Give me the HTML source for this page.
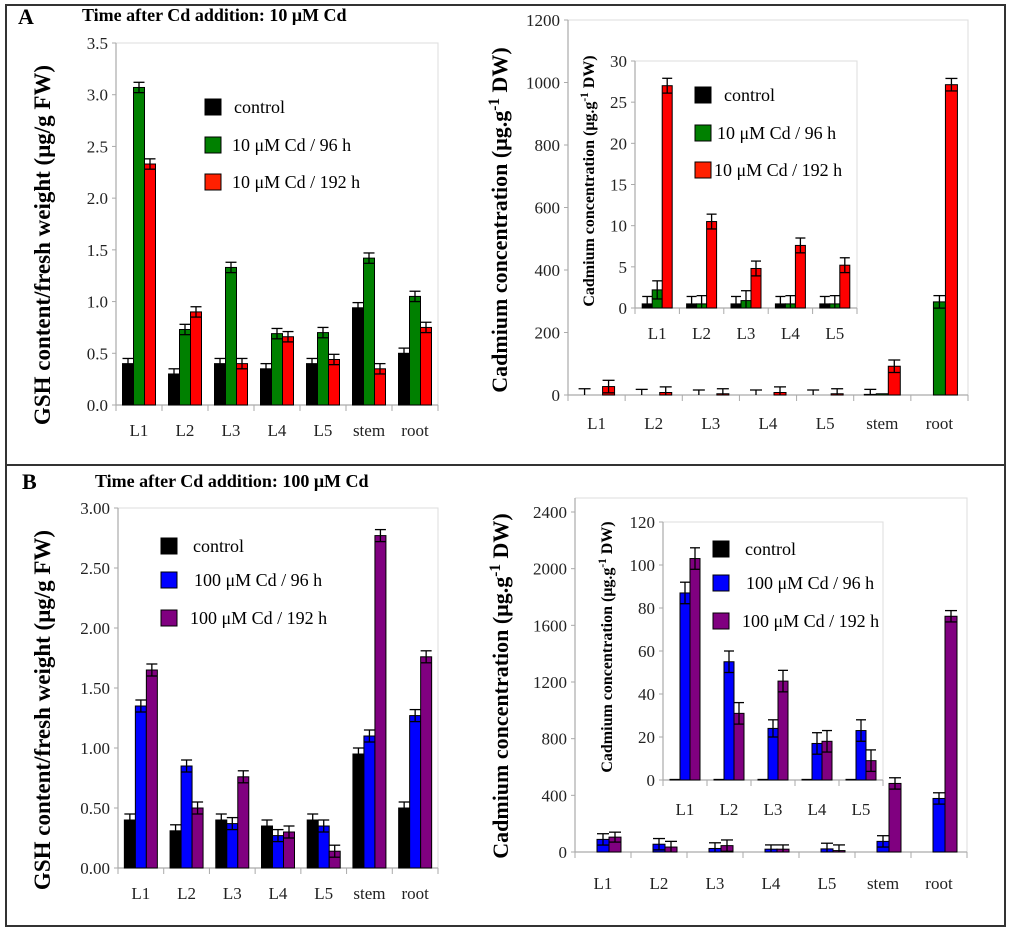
<!DOCTYPE html>
<html><head><meta charset="utf-8"><style>
html,body{margin:0;padding:0;background:#fff;}
svg{display:block;}
svg text{font-family:"Liberation Serif",serif;}
</style></head><body>
<svg id="fig" width="1024" height="932" viewBox="0 0 1024 932" xmlns="http://www.w3.org/2000/svg" font-family="Liberation Serif, serif">
<rect x="6" y="5" width="999" height="921" fill="none" stroke="#333" stroke-width="2"/>
<line x1="6" y1="465" x2="1005" y2="465" stroke="#333" stroke-width="2"/>
<text x="18" y="24" font-size="22" font-weight="bold">A</text>
<text x="82" y="21" font-size="18" font-weight="bold">Time after Cd addition:   10 μM Cd</text>
<text x="22" y="489" font-size="22" font-weight="bold">B</text>
<text x="95" y="487" font-size="18" font-weight="bold">Time after Cd addition:   100 μM Cd</text>
</svg>
<script>
const catsMain = ["L1","L2","L3","L4","L5","stem","root"];
const catsInset = ["L1","L2","L3","L4","L5"];
// Panel A GSH
const aGshCtrl = [0.40,0.30,0.40,0.35,0.40,0.94,0.50];
const aGsh96   = [3.07,0.73,1.33,0.69,0.70,1.42,1.05];
const aGsh192  = [2.33,0.90,0.40,0.66,0.44,0.35,0.75];
const aGshErr  = [0.05,0.05,0.05,0.05,0.05,0.05,0.05];
const aGshTicks = [0,0.5,1.0,1.5,2.0,2.5,3.0,3.5];
// Panel A Cd main
const aCdCtrl = [0,0,0,0,0,2,0];
const aCd96   = [0,0,0,0,0,4,298];
const aCd192  = [27,8,4,8,4,92,993];
const aCdErrCtrl = [20,18,16,16,16,16,0];
const aCdErr96 = [0,0,0,0,0,0,20];
const aCdErr192 = [20,18,16,18,16,20,20];
const aCdTicks = [0,200,400,600,800,1000,1200];
// Panel A Cd inset
const aInCtrl = [0.5,0.5,0.5,0.5,0.5];
const aIn96   = [2.2,0.5,0.9,0.5,0.5];
const aIn192  = [27,10.5,4.8,7.6,5.2];
const aInErrCtrl = [0.9,0.9,0.9,0.9,0.9];
const aInErr96 = [1.1,1.0,1.2,1.0,1.0];
const aInErr192 = [0.9,0.9,0.9,0.9,0.9];
const aInTicks = [0,5,10,15,20,25,30];
// Panel B GSH
const bGshCtrl = [0.40,0.31,0.40,0.35,0.40,0.95,0.50];
const bGsh96   = [1.35,0.85,0.37,0.27,0.35,1.10,1.27];
const bGsh192  = [1.65,0.50,0.76,0.30,0.14,2.77,1.76];
const bGshErr  = [0.05,0.05,0.05,0.05,0.05,0.05,0.05];
const bGshTicks = [0,0.5,1.0,1.5,2.0,2.5,3.0];
// Panel B Cd main
const bCdCtrl = [0,0,0,0,0,0,0];
const bCd96   = [89,55,25,20,22,75,378];
const bCd192  = [105,35,45,20,10,484,1664];
const bCdErr96 = [40,40,40,30,40,40,40];
const bCdErr192 = [35,40,40,30,40,40,40];
const bCdZero = [0,0,0,0,0,0,0];
const bCdTicks = [0,400,800,1200,1600,2000,2400];
// Panel B Cd inset
const bInCtrl = [0.3,0.3,0.3,0.3,0.3];
const bIn96   = [87,55,24,17,23];
const bIn192  = [103,31,46,18,9];
const bInErr96 = [5,5,4,5,5];
const bInErr192 = [5,5,5,5,5];
const bInZero = [0,0,0,0,0];
const bInTicks = [0,20,40,60,80,100,120];

const NS = "http://www.w3.org/2000/svg";
const fig = document.getElementById("fig");
function mk(tag, attrs, parent){
  const e = document.createElementNS(NS, tag);
  for (const k in attrs) e.setAttribute(k, attrs[k]);
  if (tag === "text") e.setAttribute("font-family", "Liberation Serif, serif");
  (parent||fig).appendChild(e);
  return e;
}
function chart(o){
  const g = mk("g", {});
  
  
  const yScale = v => o.y0 - (v - o.ticks[0]) / (o.ticks[o.ticks.length-1] - o.ticks[0]) * (o.y0 - o.yTop);
  const top = o.frameTop !== undefined ? o.frameTop : o.yTop;
  if (o.bg) mk("rect", {x:o.x0, y:top, width:o.x1-o.x0, height:o.y0-top, fill:"#fff"}, g);
  mk("polyline", {points:`${o.x0},${top} ${o.x1},${top} ${o.x1},${o.y0}`, fill:"none", stroke:"#ddd", "stroke-width":1}, g);
  const yAxis = mk("line", {x1:o.x0, y1:top, x2:o.x0, y2:o.y0, stroke:"#aaa", "stroke-width":1.2}, g);
  
  
  const xAxis = mk("line", {x1:o.x0, y1:o.y0, x2:o.x1, y2:o.y0, stroke:"#aaa", "stroke-width":1.2}, g);
  
  
  o.ticks.forEach(t => {
    const y = yScale(t);
    mk("line", {x1:o.x0-4, y1:y, x2:o.x0, y2:y, stroke:"#aaa"}, g);
    const tl = mk("text", {x:o.x0-8, y:y+6, "font-size":o.fs, "text-anchor":"end", fill:"#222"}, g);
    tl.textContent = o.fmt(t);
    
    
  });
  const cw = (o.x1 - o.x0) / o.cats.length;
  const n = o.series.length;
  o.cats.forEach((c, i) => {
    const cx0 = o.x0 + i * cw;
    mk("line", {x1:cx0, y1:o.y0, x2:cx0, y2:o.y0+6, stroke:"#aaa"}, g);
    const start = cx0 + (cw - n * o.bw) / 2;
    o.series.forEach((s, j) => {
      const v = s.vals[i];
      const x = start + j * o.bw;
      const yv = yScale(v);
      const b = mk("rect", {x:x, y:yv, width:o.bw, height:Math.max(0, o.y0 - yv), fill:s.color, stroke:"#000", "stroke-width":1}, g);
      
      
      const e = s.errs ? s.errs[i] : 0;
      if (e > 0) {
        const ye = yScale(v + e), yl = yScale(Math.max(0, v - e));
        const xm = x + o.bw / 2;
        mk("line", {x1:xm, y1:ye, x2:xm, y2:yl, stroke:"#000", "stroke-width":1.3}, g);
        mk("line", {x1:x, y1:ye, x2:x+o.bw, y2:ye, stroke:"#000", "stroke-width":1.3}, g);
        if (v - e > 0) mk("line", {x1:x, y1:yl, x2:x+o.bw, y2:yl, stroke:"#000", "stroke-width":1.3}, g);
      }
    });
    const cl = mk("text", {x:cx0 + cw/2, y:o.labelY, "font-size":o.fs, "text-anchor":"middle", fill:"#222"}, g);
    cl.textContent = c;
    
    
  });
  mk("line", {x1:o.x1, y1:o.y0, x2:o.x1, y2:o.y0+6, stroke:"#aaa"}, g);
  const tt = mk("text", {x:0, y:0, "font-size":o.tfs, "font-weight":"bold", "text-anchor":"middle", transform:`translate(${o.tx},${o.ty}) rotate(-90)`}, g);
  tt.innerHTML = o.title;
  
  
  if (o.legend) {
    o.legend.items.forEach((it, k) => {
      const y = o.legend.ys[k];
      const sq = mk("rect", {x:o.legend.x, y:y-8, width:16, height:16, fill:it.color, stroke:"#000", "stroke-width":1}, g);
      
      
      const lt = mk("text", {x:o.legend.tx[k], y:y+6, "font-size":o.legend.fs}, g);
      lt.textContent = it.label;
      
      
    });
  }
}
const f1 = t => t.toFixed(1), f2 = t => t.toFixed(2), f0 = t => String(t);
const cdTitle = 'Cadmium concentration (μg.g<tspan baseline-shift="super" font-size="70%">-1</tspan> DW)';

chart({name:"chart-a-gsh", x0:116, x1:438, y0:405, yTop:43, ticks:aGshTicks, fmt:f1, fs:17, cats:catsMain, bw:11,
  series:[{key:"control",vals:aGshCtrl,errs:aGshErr,color:"#000"},{key:"cd96",vals:aGsh96,errs:aGshErr,color:"#008000"},{key:"cd192",vals:aGsh192,errs:aGshErr,color:"#ff0000"}],
  labelY:436, title:"GSH content/fresh weight (μg/g FW)", tfs:23, tx:50, ty:245,
  legend:{x:205, ys:[107,145,182], tx:[234,232,232], fs:18, items:[{color:"#000",label:"control"},{color:"#008000",label:"10 μM Cd / 96 h"},{color:"#ff2000",label:"10 μM Cd / 192 h"}]}});

chart({name:"chart-a-cd", x0:568, x1:968, y0:395, yTop:20, ticks:aCdTicks, fmt:f0, fs:17, cats:catsMain, bw:12,
  series:[{key:"control",vals:aCdCtrl,errs:aCdErrCtrl,color:"#000"},{key:"cd96",vals:aCd96,errs:aCdErr96,color:"#008000"},{key:"cd192",vals:aCd192,errs:aCdErr192,color:"#ff0000"}],
  labelY:429, title:cdTitle, tfs:22, tx:507, ty:220});

chart({name:"chart-a-cd-inset", x0:635, x1:857, y0:308, yTop:61, ticks:aInTicks, fmt:f0, fs:17, cats:catsInset, bw:10, bg:true,
  series:[{key:"control",vals:aInCtrl,errs:aInErrCtrl,color:"#000"},{key:"cd96",vals:aIn96,errs:aInErr96,color:"#008000"},{key:"cd192",vals:aIn192,errs:aInErr192,color:"#ff0000"}],
  labelY:339, title:cdTitle, tfs:16, tx:594, ty:181,
  legend:{x:695, ys:[95,133,170], tx:[724,717,714], fs:18, items:[{color:"#000",label:"control"},{color:"#008000",label:"10 μM Cd / 96 h"},{color:"#ff2000",label:"10 μM Cd / 192 h"}]}});

chart({name:"chart-b-gsh", x0:118, x1:438, y0:868, yTop:508, ticks:bGshTicks, fmt:f2, fs:17, cats:catsMain, bw:11,
  series:[{key:"control",vals:bGshCtrl,errs:bGshErr,color:"#000"},{key:"cd96",vals:bGsh96,errs:bGshErr,color:"#0000ff"},{key:"cd192",vals:bGsh192,errs:bGshErr,color:"#800080"}],
  labelY:899, title:"GSH content/fresh weight (μg/g FW)", tfs:23, tx:50, ty:710,
  legend:{x:161, ys:[546,580,618], tx:[193,194,190], fs:18, items:[{color:"#000",label:"control"},{color:"#0000ff",label:"100 μM Cd / 96 h"},{color:"#800080",label:"100 μM Cd / 192 h"}]}});

chart({name:"chart-b-cd", x0:575, x1:967, y0:852, yTop:512, frameTop:498, ticks:bCdTicks, fmt:f0, fs:17, cats:catsMain, bw:12,
  series:[{key:"control",vals:bCdCtrl,errs:bCdZero,color:"#000"},{key:"cd96",vals:bCd96,errs:bCdErr96,color:"#0000ff"},{key:"cd192",vals:bCd192,errs:bCdErr192,color:"#800080"}],
  labelY:889, title:cdTitle, tfs:22, tx:508, ty:686});

chart({name:"chart-b-cd-inset", x0:663, x1:883, y0:780, yTop:522, ticks:bInTicks, fmt:f0, fs:17, cats:catsInset, bw:10,
  series:[{key:"control",vals:bInCtrl,errs:bInZero,color:"#000"},{key:"cd96",vals:bIn96,errs:bInErr96,color:"#0000ff"},{key:"cd192",vals:bIn192,errs:bInErr192,color:"#800080"}],
  labelY:815, title:cdTitle, tfs:16, tx:612, ty:647,
  legend:{x:713, ys:[549,583,621], tx:[745,746,742], fs:18, items:[{color:"#000",label:"control"},{color:"#0000ff",label:"100 μM Cd / 96 h"},{color:"#800080",label:"100 μM Cd / 192 h"}]}});
</script>
</body></html>
